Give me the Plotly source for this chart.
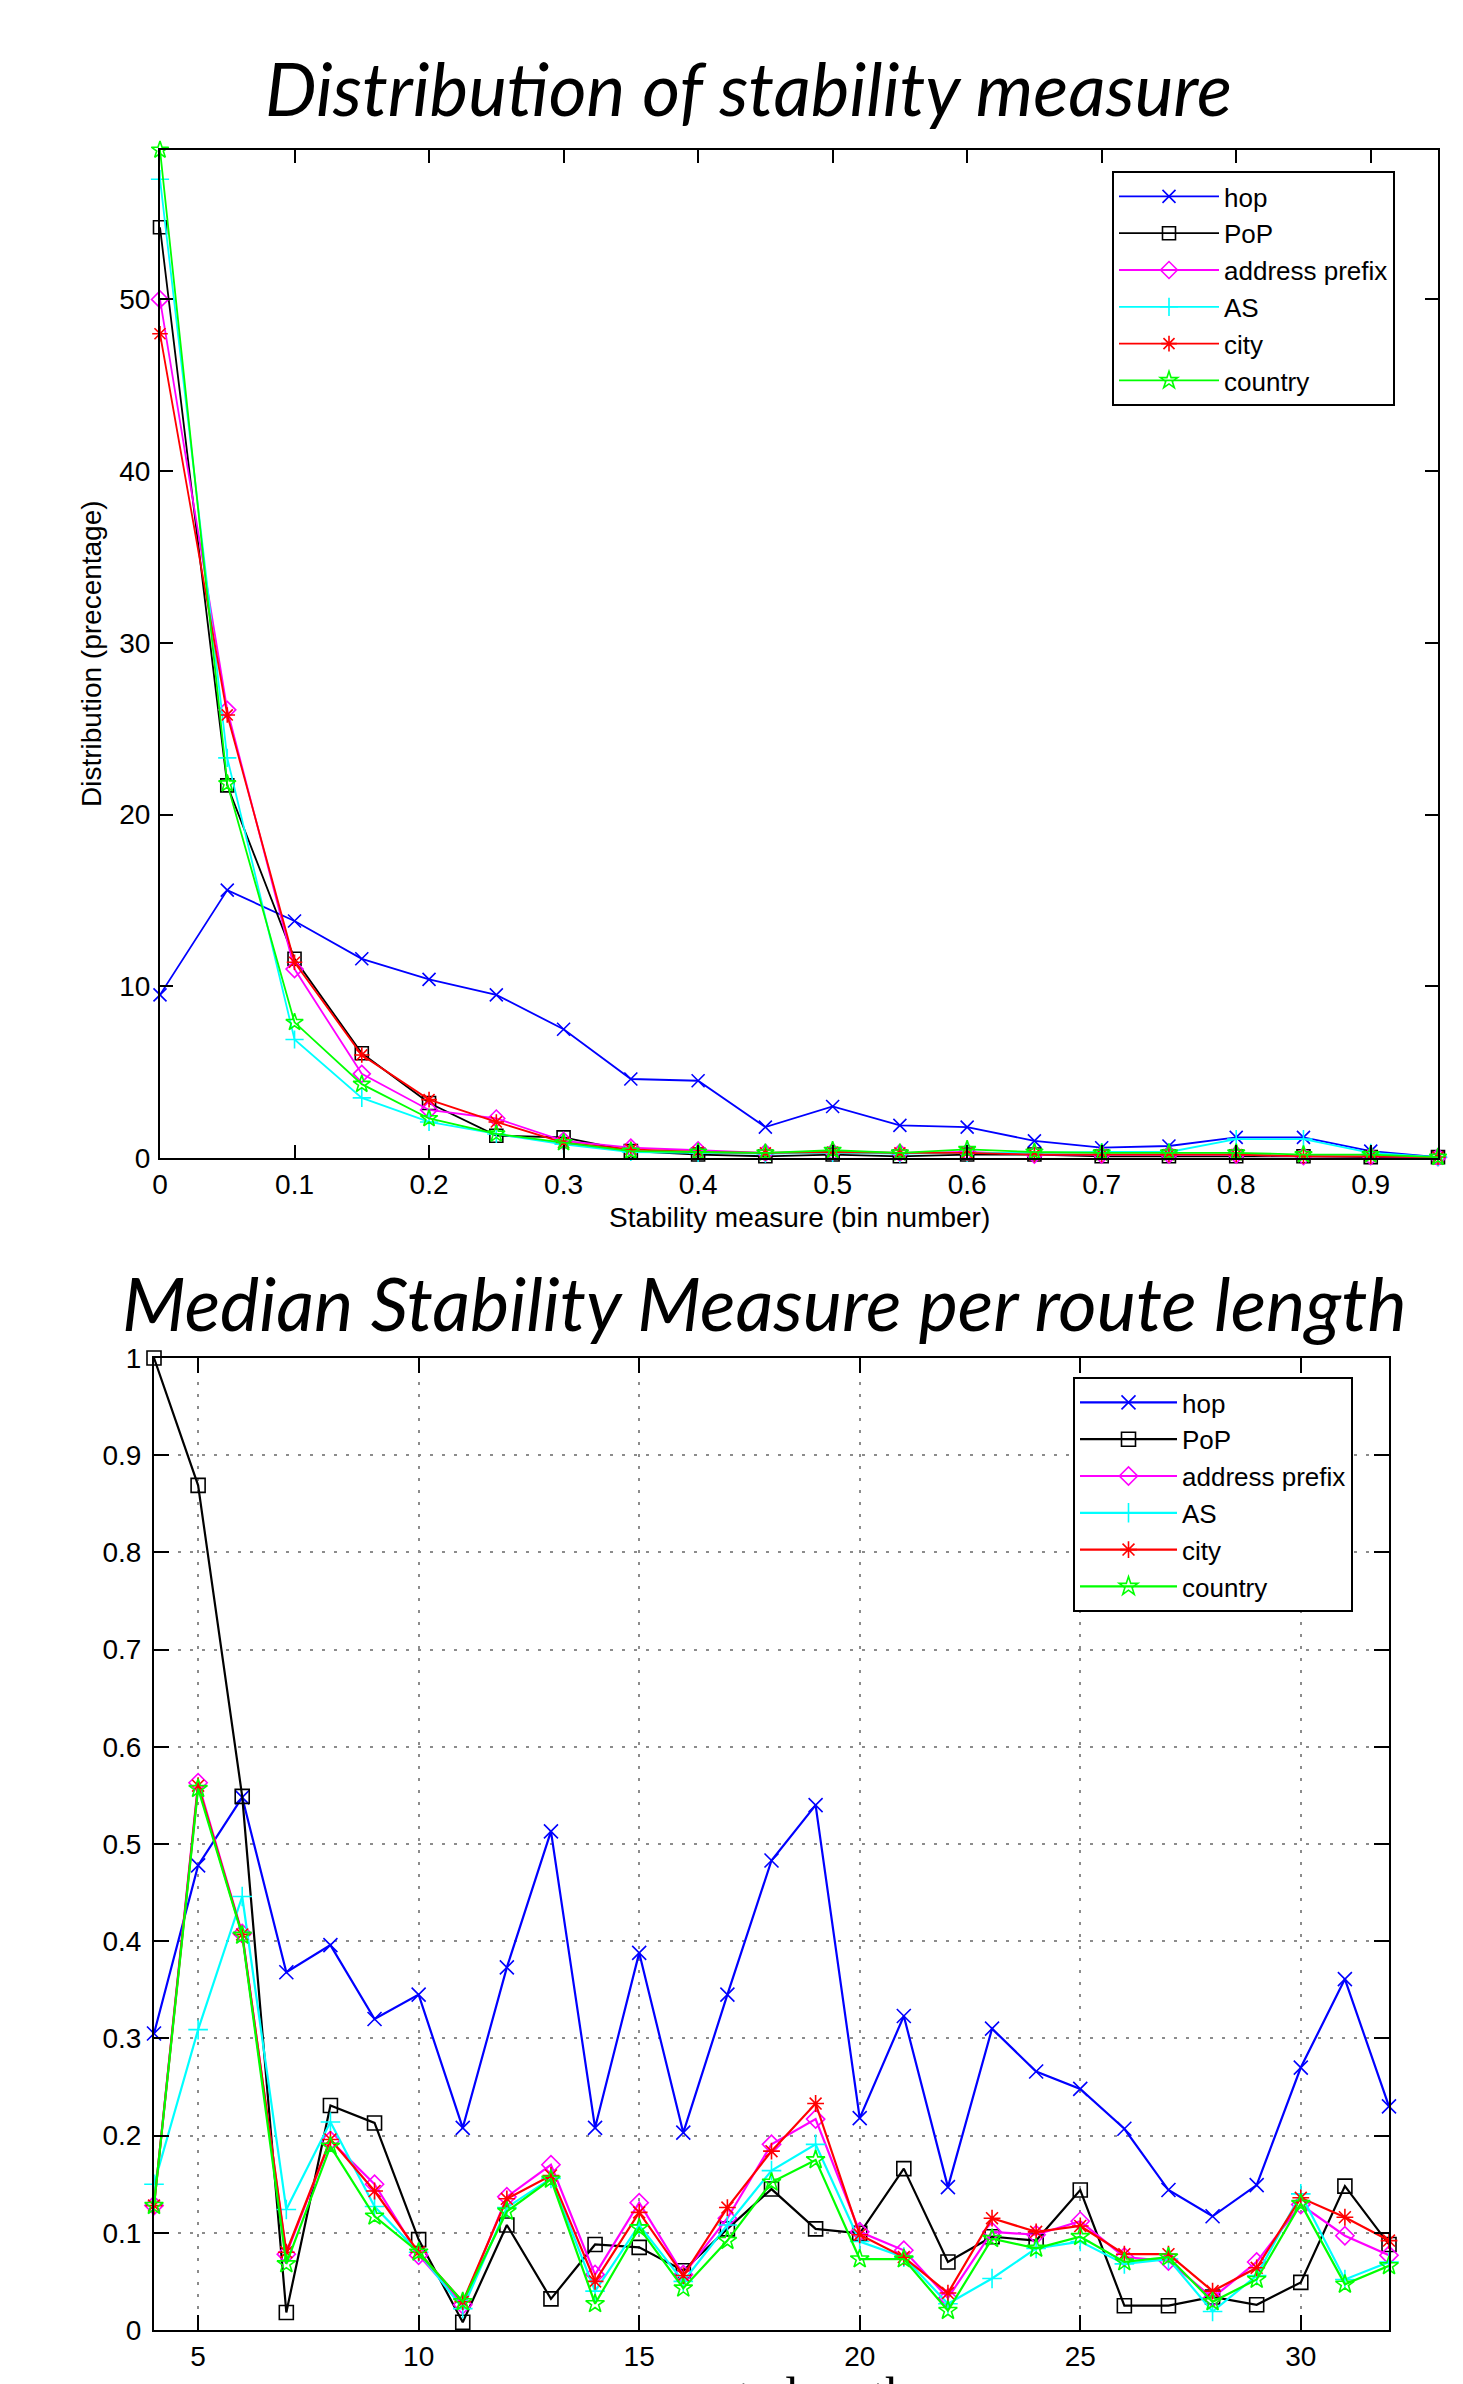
import plotly.graph_objects as go

W, H = 1463, 2384

# ---------------- data ----------------
series_names = ["hop", "PoP", "address prefix", "AS", "city", "country"]
series_colors = ["#0000FF", "#000000", "#FF00FF", "#00FFFF", "#FF0000", "#00FF00"]
series_symbols = ["x-thin-open", "square-open", "diamond-open", "cross-thin-open", "asterisk-open", "star-open"]

# Top chart: distribution of stability measure
bins = [0.0, 0.05, 0.1, 0.15, 0.2, 0.25, 0.3, 0.35, 0.4, 0.45,
        0.5, 0.55, 0.6, 0.65, 0.7, 0.75, 0.8, 0.85, 0.9, 0.95]
dist_hop = [9.5, 15.6, 13.8, 11.6, 10.4, 9.5, 7.5, 4.6, 4.5, 1.8,
            3.0, 1.9, 1.8, 1.0, 0.6, 0.7, 1.2, 1.2, 0.4, 0.05]
dist_pop = [54.2, 21.7, 11.6, 6.1, 3.2, 1.3, 1.2, 0.4, 0.2, 0.1,
            0.2, 0.1, 0.2, 0.2, 0.1, 0.1, 0.1, 0.1, 0.05, 0.05]
dist_prefix = [50.0, 26.1, 11.0, 4.9, 2.8, 2.3, 1.0, 0.6, 0.45, 0.3,
               0.35, 0.3, 0.35, 0.2, 0.2, 0.2, 0.2, 0.1, 0.1, 0.05]
dist_as = [57.0, 23.3, 6.9, 3.5, 2.1, 1.4, 0.8, 0.35, 0.3, 0.25,
           0.3, 0.25, 0.3, 0.3, 0.35, 0.35, 1.1, 1.1, 0.3, 0.05]
dist_city = [48.0, 25.8, 11.4, 6.0, 3.4, 2.1, 0.9, 0.5, 0.35, 0.3,
             0.35, 0.3, 0.3, 0.2, 0.2, 0.2, 0.2, 0.1, 0.1, 0.05]
dist_country = [58.7, 21.8, 7.9, 4.3, 2.3, 1.4, 0.9, 0.4, 0.35, 0.3,
                0.45, 0.3, 0.5, 0.35, 0.3, 0.3, 0.3, 0.2, 0.2, 0.05]

top_xticks = [0, 0.1, 0.2, 0.3, 0.4, 0.5, 0.6, 0.7, 0.8, 0.9]
top_xticklabels = ["0", "0.1", "0.2", "0.3", "0.4", "0.5", "0.6", "0.7", "0.8", "0.9"]
top_yticks = [0, 10, 20, 30, 40, 50]
top_yticklabels = ["0", "10", "20", "30", "40", "50"]

# Bottom chart: median stability measure per route length
route_len = [4, 5, 6, 7, 8, 9, 10, 11, 12, 13, 14, 15, 16, 17, 18,
             19, 20, 21, 22, 23, 24, 25, 26, 27, 28, 29, 30, 31, 32]
med_hop = [0.305, 0.478, 0.548, 0.368, 0.396, 0.320, 0.345, 0.208, 0.373, 0.513,
           0.208, 0.388, 0.203, 0.345, 0.483, 0.540, 0.218, 0.323, 0.147, 0.310,
           0.266, 0.248, 0.207, 0.144, 0.117, 0.149, 0.270, 0.361, 0.230]
med_pop = [1.0, 0.869, 0.549, 0.018, 0.231, 0.213, 0.093, 0.008, 0.108, 0.032,
           0.088, 0.085, 0.061, 0.104, 0.145, 0.104, 0.0995, 0.166, 0.070, 0.096,
           0.092, 0.144, 0.025, 0.025, 0.034, 0.026, 0.049, 0.148, 0.088]
med_prefix = [0.128, 0.563, 0.408, 0.078, 0.195, 0.150, 0.077, 0.026, 0.137, 0.170,
              0.057, 0.131, 0.057, 0.115, 0.191, 0.217, 0.101, 0.082, 0.033, 0.101,
              0.098, 0.112, 0.075, 0.071, 0.033, 0.070, 0.129, 0.097, 0.077]
med_as = [0.150, 0.309, 0.446, 0.124, 0.214, 0.127, 0.080, 0.022, 0.126, 0.156,
          0.040, 0.108, 0.050, 0.108, 0.164, 0.191, 0.091, 0.075, 0.027, 0.053,
          0.084, 0.091, 0.068, 0.073, 0.019, 0.056, 0.140, 0.052, 0.070]
med_city = [0.128, 0.560, 0.407, 0.080, 0.196, 0.143, 0.080, 0.029, 0.135, 0.159,
            0.050, 0.121, 0.056, 0.126, 0.184, 0.233, 0.098, 0.075, 0.038, 0.115,
            0.101, 0.107, 0.078, 0.078, 0.040, 0.064, 0.136, 0.116, 0.092]
med_country = [0.128, 0.557, 0.406, 0.068, 0.189, 0.117, 0.080, 0.029, 0.122, 0.155,
               0.027, 0.105, 0.043, 0.092, 0.152, 0.175, 0.073, 0.073, 0.020, 0.094,
               0.084, 0.096, 0.070, 0.075, 0.029, 0.052, 0.130, 0.047, 0.066]

bot_xticks = [5, 10, 15, 20, 25, 30]
bot_xticklabels = ["5", "10", "15", "20", "25", "30"]
bot_yticks = [0, 0.1, 0.2, 0.3, 0.4, 0.5, 0.6, 0.7, 0.8, 0.9, 1.0]
bot_yticklabels = ["0", "0.1", "0.2", "0.3", "0.4", "0.5", "0.6", "0.7", "0.8", "0.9", "1"]

title_top = "Distribution of stability measure"
title_bottom = "Median Stability Measure per route length"
ylabel_top = "Distribution (precentage)"
xlabel_top = "Stability measure (bin number)"
xlabel_bottom = "route length"

# ---------------- helpers ----------------
# the page body adds an 8px offset; compensate so page pixels match the target
OFF = 8

def fx(p):
    return (p - OFF) / W

def fy(p):
    return 1 - (p - OFF) / H

SANS = "Liberation Sans, Arial, Helvetica, sans-serif"
TITLE_FONT = "Lato, Open Sans, sans-serif"

fig = go.Figure()

top_series = [dist_hop, dist_pop, dist_prefix, dist_as, dist_city, dist_country]
bot_series = [med_hop, med_pop, med_prefix, med_as, med_city, med_country]

for name, col, sym, ys in zip(series_names, series_colors, series_symbols, top_series):
    fig.add_trace(go.Scatter(
        x=bins, y=ys, name=name, mode="lines+markers",
        line=dict(color=col, width=1.8),
        marker=dict(symbol=sym, size=13, color=col, line=dict(color=col, width=1.6)),
        xaxis="x", yaxis="y", legend="legend", cliponaxis=False,
    ))

for name, col, sym, ys in zip(series_names, series_colors, series_symbols, bot_series):
    fig.add_trace(go.Scatter(
        x=route_len, y=ys, name=name, mode="lines+markers",
        line=dict(color=col, width=2.2),
        marker=dict(symbol=sym, size=14, color=col, line=dict(color=col, width=1.6)),
        xaxis="x2", yaxis="y2", legend="legend2", cliponaxis=False,
    ))

axis_common = dict(
    showline=True, linecolor="black", linewidth=2, mirror="ticks",
    ticks="inside", tickcolor="black", tickwidth=1.5,
    tickfont=dict(family=SANS, size=28, color="black"),
    zeroline=False, automargin=False,
)

legend_common = dict(
    bgcolor="white", bordercolor="black", borderwidth=2,
    font=dict(family=SANS, size=26, color="black"),
    xanchor="left", yanchor="top", tracegroupgap=0,
)

grid_style = dict(showgrid=True, gridcolor="#8c8c8c", griddash="3px,9px", gridwidth=1.8)

fig.update_layout(
    template="none",
    width=W, height=H,
    margin=dict(l=0, r=0, t=0, b=0, pad=0, autoexpand=False),
    paper_bgcolor="white", plot_bgcolor="white",
    xaxis=dict(domain=[fx(160), fx(1438)], range=[0, 0.95], anchor="y",
               tickvals=top_xticks, ticktext=top_xticklabels, ticklen=13,
               showgrid=False, ticklabelstandoff=0, **axis_common),
    yaxis=dict(domain=[fy(1158), fy(150)], range=[0, 58.7], anchor="x",
               tickvals=top_yticks, ticktext=top_yticklabels, ticklen=13,
               showgrid=False, ticklabelstandoff=2, **axis_common),
    xaxis2=dict(domain=[fx(154), fx(1389)], range=[4, 32], anchor="y2",
                tickvals=bot_xticks, ticktext=bot_xticklabels, ticklen=15,
                ticklabelstandoff=0, **grid_style, **axis_common),
    yaxis2=dict(domain=[fy(2330), fy(1358)], range=[0, 1], anchor="x2",
                tickvals=bot_yticks, ticktext=bot_yticklabels, ticklen=15,
                ticklabelstandoff=5, **grid_style, **axis_common),
    legend=dict(x=fx(1112), y=fy(171), itemwidth=100, **legend_common),
    legend2=dict(x=fx(1073), y=fy(1377), itemwidth=97, **legend_common),
    showlegend=True,
)

fig.add_annotation(text=title_top, xref="paper", yref="paper", x=fx(748), y=fy(88),
                   xanchor="center", yanchor="middle", showarrow=False,
                   font=dict(family=TITLE_FONT, size=73, color="black", style="italic"))
fig.add_annotation(text=title_bottom, xref="paper", yref="paper", x=fx(764), y=fy(1302),
                   xanchor="center", yanchor="middle", showarrow=False,
                   font=dict(family=TITLE_FONT, size=74, color="black", style="italic"))
fig.add_annotation(text=ylabel_top, xref="paper", yref="paper", x=fx(91), y=fy(654),
                   xanchor="center", yanchor="middle", showarrow=False, textangle=-90,
                   font=dict(family=SANS, size=28, color="black"))
fig.add_annotation(text=xlabel_top, xref="paper", yref="paper", x=fx(799), y=fy(1217),
                   xanchor="center", yanchor="middle", showarrow=False,
                   font=dict(family=SANS, size=28, color="black"))
fig.add_annotation(text=xlabel_bottom, xref="paper", yref="paper", x=fx(790), y=fy(2365),
                   xanchor="center", yanchor="top", showarrow=False,
                   font=dict(family="Liberation Serif, Times New Roman, serif", size=50, color="black"))

fig.write_html("out.html")
